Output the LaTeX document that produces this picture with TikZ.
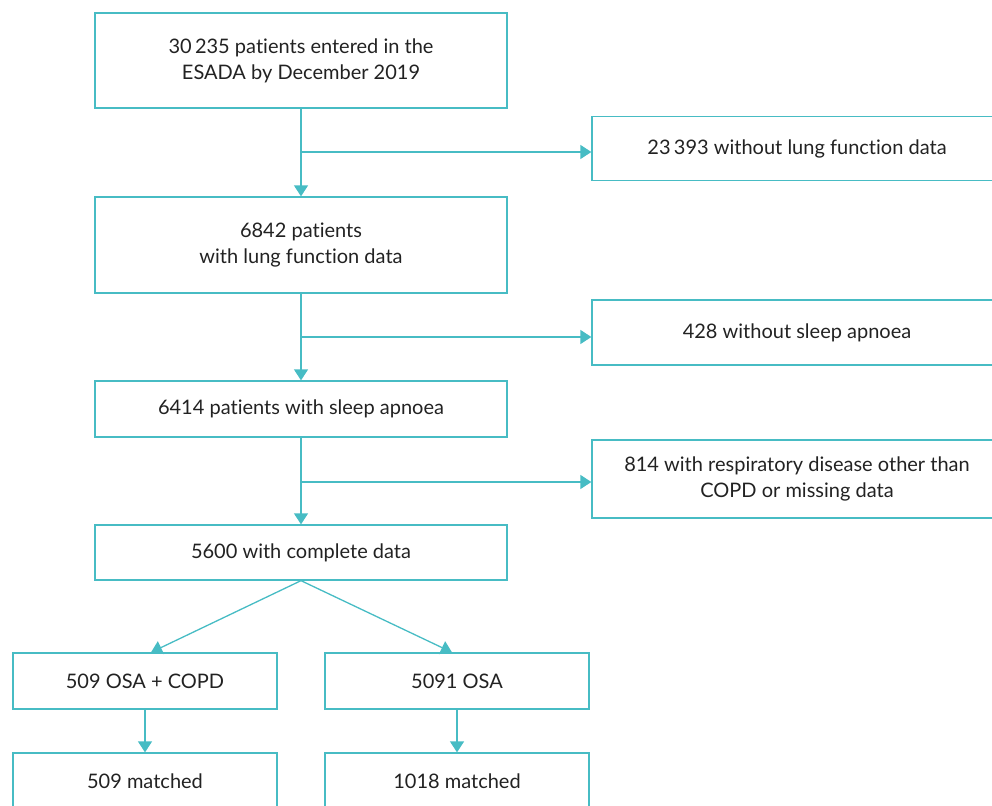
\documentclass[tikz,border=0pt]{standalone}
\usepackage{fontspec}
\setmainfont{Lato}[Ligatures={NoCommon}]
\usetikzlibrary{arrows.meta}
\definecolor{teal}{HTML}{47BCC4}
\definecolor{txt}{HTML}{222222}
\begin{document}
\begin{tikzpicture}[x=1pt,y=-1pt,
  box/.style={draw=teal,line width=1.3pt,rectangle,inner sep=0pt,align=center,
    text=txt,font=\fontsize{20}{26}\selectfont},
  conn/.style={draw=teal,line width=1.3pt},
  arr/.style={conn,-{Triangle[length=11pt,width=14pt]}}]
\useasboundingbox (0,0) rectangle (992,805);
\clip (0,0) rectangle (992,805);
\node[box,minimum width=412pt,minimum height=95pt] (b1) at (301,60.5) {30\,235 patients entered in the\\ESADA by December 2019};
\node[box,minimum width=410pt,minimum height=64pt] (r1) at (797,148.5) {23\,393 without lung function data};
\node[box,minimum width=412pt,minimum height=96pt] (b2) at (301,245) {6842 patients\\with lung function data};
\node[box,minimum width=410pt,minimum height=65pt] (r2) at (797,332.5) {428 without sleep apnoea};
\node[box,minimum width=412pt,minimum height=56pt] (b3) at (301,409) {6414 patients with sleep apnoea};
\node[box,minimum width=410pt,minimum height=78pt] (r3) at (797,479) {814 with respiratory disease other than\\COPD or missing data};
\node[box,minimum width=412pt,minimum height=55pt] (b4) at (301,552.5) {5600 with complete data};
\node[box,minimum width=264pt,minimum height=56pt] (c1) at (145,681) {509 OSA + COPD};
\node[box,minimum width=264pt,minimum height=56pt] (c2) at (457,681) {5091 OSA};
\node[box,minimum width=264pt,minimum height=56pt] (d1) at (145,781) {509 matched};
\node[box,minimum width=264pt,minimum height=56pt] (d2) at (457,781) {1018 matched};
\coordinate (k1) at (301,152);
\coordinate (k2) at (301,337);
\coordinate (k3) at (301,482);
\draw[arr] (b1.south) -- (b2.north);
\draw[arr] (k1) -- (r1.west |- k1);
\draw[arr] (b2.south) -- (b3.north);
\draw[arr] (k2) -- (r2.west |- k2);
\draw[arr] (b3.south) -- (b4.north);
\draw[arr] (k3) -- (r3.west |- k3);
\draw[arr] (b4.south) -- ([xshift=6pt]c1.north);
\draw[arr] (b4.south) -- ([xshift=-5pt]c2.north);
\draw[arr] (c1.south) -- (d1.north);
\draw[arr] (c2.south) -- (d2.north);
\end{tikzpicture}
\end{document}
